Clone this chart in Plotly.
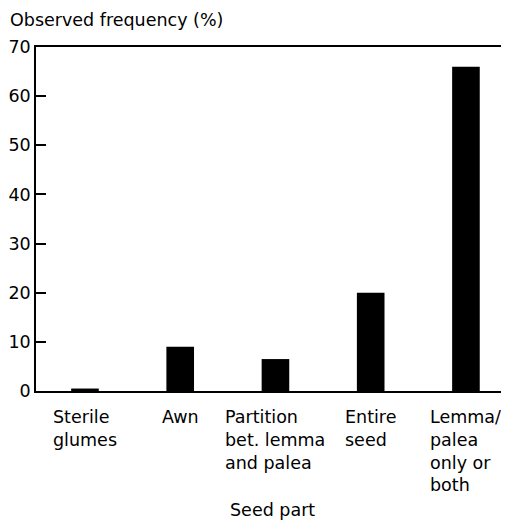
import plotly.graph_objects as go

categories = ["Sterile glumes", "Awn", "Partition bet. lemma and palea", "Entire seed", "Lemma/palea only or both"]
tick_labels = ["Sterile<br>glumes", "Awn", "Partition<br>bet. lemma<br>and palea", "Entire<br>seed", "Lemma/<br>palea<br>only or<br>both"]
values = [0.5, 9, 6.5, 20, 66]
y_ticks = [0, 10, 20, 30, 40, 50, 60, 70]

FONT = "DejaVu Sans"
FS = 17.5

# page body has an 8px default margin, so the figure is sized to fit the window
W, H = 501, 512
ML, MT, MB = 28, 39, 129
PH = H - MT - MB

fig = go.Figure()
fig.add_trace(go.Bar(
    x=categories, y=values, width=0.29,
    marker=dict(color="black", line=dict(width=0)),
))

for cat, lab in zip(categories, tick_labels):
    fig.add_annotation(
        x=cat, xref="x", y=-0.04, yref="paper",
        text=lab, showarrow=False, align="left",
        xanchor="center", yanchor="top",
        font=dict(family=FONT, size=FS, color="black"),
    )

fig.add_annotation(
    x=0.5, xref="paper", y=-119 / PH, yref="paper",
    text="Seed part", showarrow=False, xanchor="center", yanchor="middle",
    font=dict(family=FONT, size=FS, color="black"),
)
fig.add_annotation(
    x=-ML / (W - ML), xref="paper", y=1 + 27 / PH, yref="paper",
    text="Observed frequency (%)", showarrow=False, xanchor="left", yanchor="middle",
    font=dict(family=FONT, size=FS, color="black"),
)

fig.update_layout(
    width=W, height=H,
    margin=dict(l=ML, r=0, t=MT, b=MB, autoexpand=False),
    paper_bgcolor="white", plot_bgcolor="white",
    showlegend=False,
    font=dict(family=FONT, size=FS, color="black"),
    xaxis=dict(
        type="category", range=[-0.514, 4.452],
        showticklabels=False, ticks="", showgrid=False, zeroline=False,
        showline=True, mirror=True, linecolor="black", linewidth=1.5,
        automargin=False,
    ),
    yaxis=dict(
        range=[0, 70], tickvals=y_ticks, ticks="inside", ticklen=10, tickwidth=2,
        tickcolor="black", showgrid=False, zeroline=False,
        showline=True, linecolor="black", linewidth=1.5,
        ticklabelstandoff=0, automargin=False,
        tickfont=dict(family=FONT, size=FS, color="black"),
    ),
)

fig.write_html("out.html")
